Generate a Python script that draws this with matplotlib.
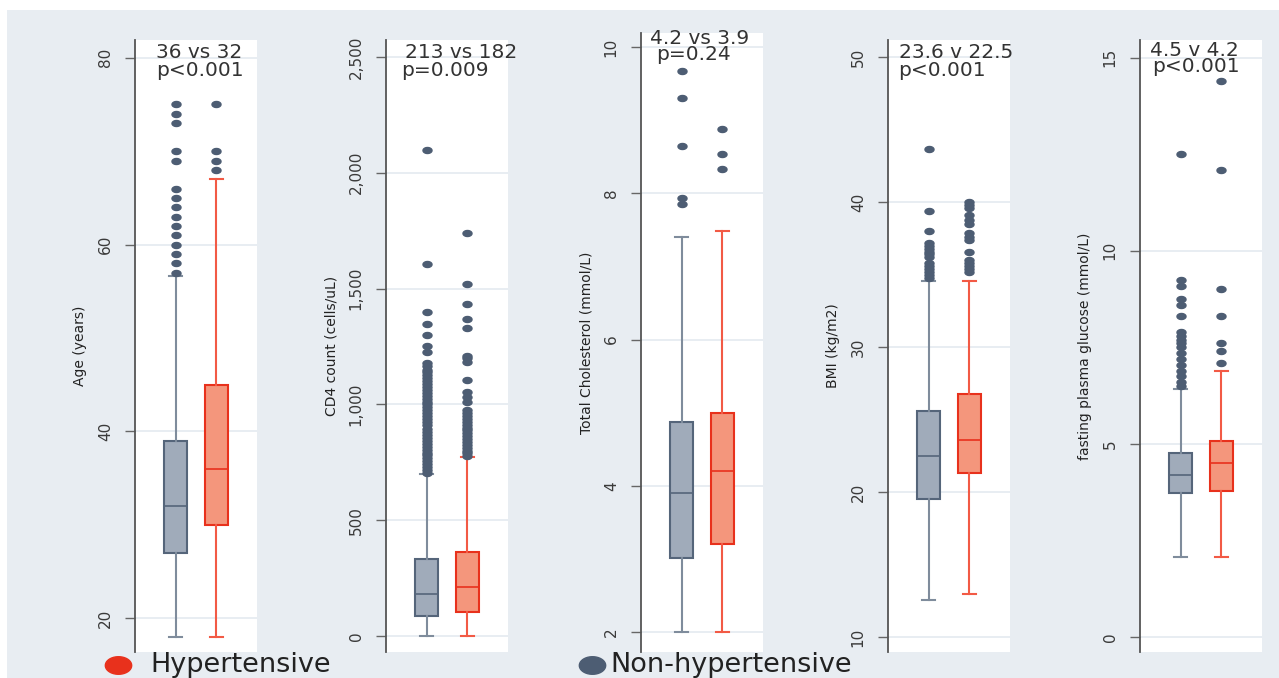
import matplotlib.pyplot as plt
import numpy as np
from matplotlib.path import Path
from matplotlib.patches import Rectangle
from matplotlib.lines import Line2D
from matplotlib.ticker import FuncFormatter

W, H = 1279, 678

groups = ['Non-hypertensive', 'Hypertensive']
ylabels = ['Age (years)', 'CD4 count (cells/uL)', 'Total Cholesterol (mmol/L)',
           'BMI (kg/m2)', 'fasting plasma glucose (mmol/L)']
notes = [('36 vs 32', 'p<0.001'), ('213 vs 182', 'p=0.009'), ('4.2 vs 3.9', 'p=0.24'),
         ('23.6 v 22.5', 'p<0.001'), ('4.5 v 4.2', 'p<0.001')]
yticks = [[20, 40, 60, 80], [0, 500, 1000, 1500, 2000, 2500], [2, 4, 6, 8, 10],
          [10, 20, 30, 40, 50], [0, 5, 10, 15]]
ylims = [(16.4, 81.9), (-69, 2573), (1.73, 10.19), (8.96, 51.2), (-0.39, 15.46)]

# whislo, q1, median, q3, whishi
age_non = [18, 27, 32, 39, 56.6]
age_hyp = [18, 30, 36, 45, 67]
cd4_non = [0, 86, 182, 334, 700]
cd4_hyp = [0, 103, 213, 363, 771]
chol_non = [2.0, 3.02, 3.9, 4.88, 7.4]
chol_hyp = [2.0, 3.2, 4.2, 5.0, 7.48]
bmi_non = [12.55, 19.5, 22.5, 25.6, 34.6]
bmi_hyp = [12.96, 21.3, 23.6, 26.8, 34.6]
glu_non = [2.08, 3.72, 4.2, 4.77, 6.42]
glu_hyp = [2.08, 3.78, 4.5, 5.08, 6.9]

# outliers
age_non_out = [57, 58, 59, 60, 61, 62, 63, 64, 65, 66, 69, 70, 73, 74, 75]
age_hyp_out = [68, 69, 70, 75]
cd4_non_out = [705, 718, 730, 742, 755, 768, 780, 792, 805, 818, 830, 842, 855, 868, 880,
               892, 910, 925, 938, 950, 962, 975, 988, 1000, 1012, 1025, 1038, 1050, 1062,
               1075, 1088, 1100, 1112, 1125, 1138, 1150, 1165, 1180, 1225, 1250, 1300,
               1349, 1399, 1604, 2100]
cd4_hyp_out = [778, 790, 800, 812, 825, 838, 850, 862, 875, 888, 900, 912, 925, 938, 950,
               962, 975, 1010, 1030, 1053, 1104, 1185, 1200, 1210, 1330, 1370, 1433, 1520, 1738]
chol_non_out = [7.85, 7.93, 8.65, 9.3, 9.67]
chol_hyp_out = [8.33, 8.53, 8.88]
bmi_non_out = [34.8, 35.0, 35.2, 35.4, 35.6, 35.8, 36.2, 36.4, 36.6, 36.8, 37.0, 37.2,
               38.0, 39.4, 43.7]
bmi_hyp_out = [35.2, 35.4, 35.6, 35.8, 36.0, 36.6, 37.4, 37.6, 37.9, 38.5, 38.8, 39.1,
               39.6, 39.8, 40.0]
glu_non_out = [6.5, 6.6, 6.75, 6.9, 7.05, 7.2, 7.35, 7.5, 7.6, 7.7, 7.8, 7.9, 8.3, 8.6,
               8.75, 9.1, 9.25, 12.5]
glu_hyp_out = [7.1, 7.4, 7.6, 8.3, 9.0, 12.1, 14.4]

summaries = [(age_non, age_hyp), (cd4_non, cd4_hyp), (chol_non, chol_hyp),
             (bmi_non, bmi_hyp), (glu_non, glu_hyp)]
outliers = [(age_non_out, age_hyp_out), (cd4_non_out, cd4_hyp_out),
            (chol_non_out, chol_hyp_out), (bmi_non_out, bmi_hyp_out),
            (glu_non_out, glu_hyp_out)]

# layout (pixels)
lefts = [135, 386, 641, 888, 1140]
tops = [40, 40, 33, 40, 40]
bottom = 652
pw = 122
note_pos = [((199, 52), (200, 70)), ((461, 52), (445, 70)), ((700, 38), (693, 55)),
            ((956, 52), (942, 70)), ((1194, 50), (1196, 67))]

bg = '#e8edf2'
grey_fill, grey_edge, grey_whisk = '#a0abba', '#55657a', '#7f8c9c'
red_fill, red_edge, red_whisk = '#f4967c', '#e8311c', '#f25a45'
dot = '#4d5d73'

# horizontally stretched dot, like the original
t = np.linspace(0, 2 * np.pi, 40)
ell = Path(np.column_stack([1.5 * np.cos(t), np.sin(t)]), closed=True)

fig = plt.figure(figsize=(W / 100, H / 100), dpi=100, facecolor='white')
fig.add_artist(Rectangle((7 / W, 0), 1 - 7 / W, 1 - 10 / H, transform=fig.transFigure,
                         facecolor=bg, edgecolor='none', zorder=0))

for i in range(5):
    ax = fig.add_axes([lefts[i] / W, 1 - bottom / H, pw / W, (bottom - tops[i]) / H])
    ax.set_facecolor('white')
    stats = []
    for s, o in zip(summaries[i], outliers[i]):
        stats.append(dict(whislo=s[0], q1=s[1], med=s[2], q3=s[3], whishi=s[4], fliers=o))
    bp = ax.bxp(stats, positions=[1, 2], widths=0.57, capwidths=0.32, patch_artist=True,
                flierprops=dict(marker=ell, markersize=6.5, markerfacecolor=dot,
                                markeredgecolor=dot, linestyle='none'))
    cols = [(grey_fill, grey_edge, grey_whisk), (red_fill, red_edge, red_whisk)]
    for k, (f, e, w) in enumerate(cols):
        bp['boxes'][k].set(facecolor=f, edgecolor=e, linewidth=1.5)
        bp['medians'][k].set(color=e, linewidth=1.2)
        for ln in bp['whiskers'][2 * k:2 * k + 2] + bp['caps'][2 * k:2 * k + 2]:
            ln.set(color=w, linewidth=1.5)

    ax.set_xlim(0, 3)
    ax.set_ylim(*ylims[i])
    ax.set_yticks(yticks[i])
    if i == 1:
        ax.yaxis.set_major_formatter(FuncFormatter(lambda v, p: '{:,.0f}'.format(v)))
    ax.set_xticks([])
    ax.grid(axis='y', color='#e6ecf1', linewidth=1.3)
    ax.set_axisbelow(True)
    for sp in ['top', 'right', 'bottom']:
        ax.spines[sp].set_visible(False)
    ax.spines['left'].set(color='#555555', linewidth=1.3)
    ax.tick_params(axis='y', labelrotation=90, length=7, width=1, color='#666666',
                   labelsize=11, pad=9, labelcolor='#3a3a3a')
    for lbl in ax.get_yticklabels():
        lbl.set_va('center')
    ax.set_ylabel(ylabels[i], fontsize=10, color='#222222')
    ax.yaxis.set_label_coords(-0.39, 0.5)

    for txt, (x, y) in zip(notes[i], note_pos[i]):
        fig.text(x / W, 1 - y / H, txt, ha='center', va='center', fontsize=14.5,
                 color='#333333')

# legend
legend_items = [('Hypertensive', red_edge, 118, 150), ('Non-hypertensive', dot, 592, 610)]
for name, c, mx, tx in legend_items:
    fig.add_artist(Line2D([mx / W], [1 - 665 / H], marker=ell, markersize=19, color=c,
                          linestyle='none', transform=fig.transFigure))
    fig.text(tx / W, 1 - 672 / H, name, ha='left', va='baseline', fontsize=19.5,
             color='#222222')

fig.savefig('out.png', dpi=100, facecolor='white')
